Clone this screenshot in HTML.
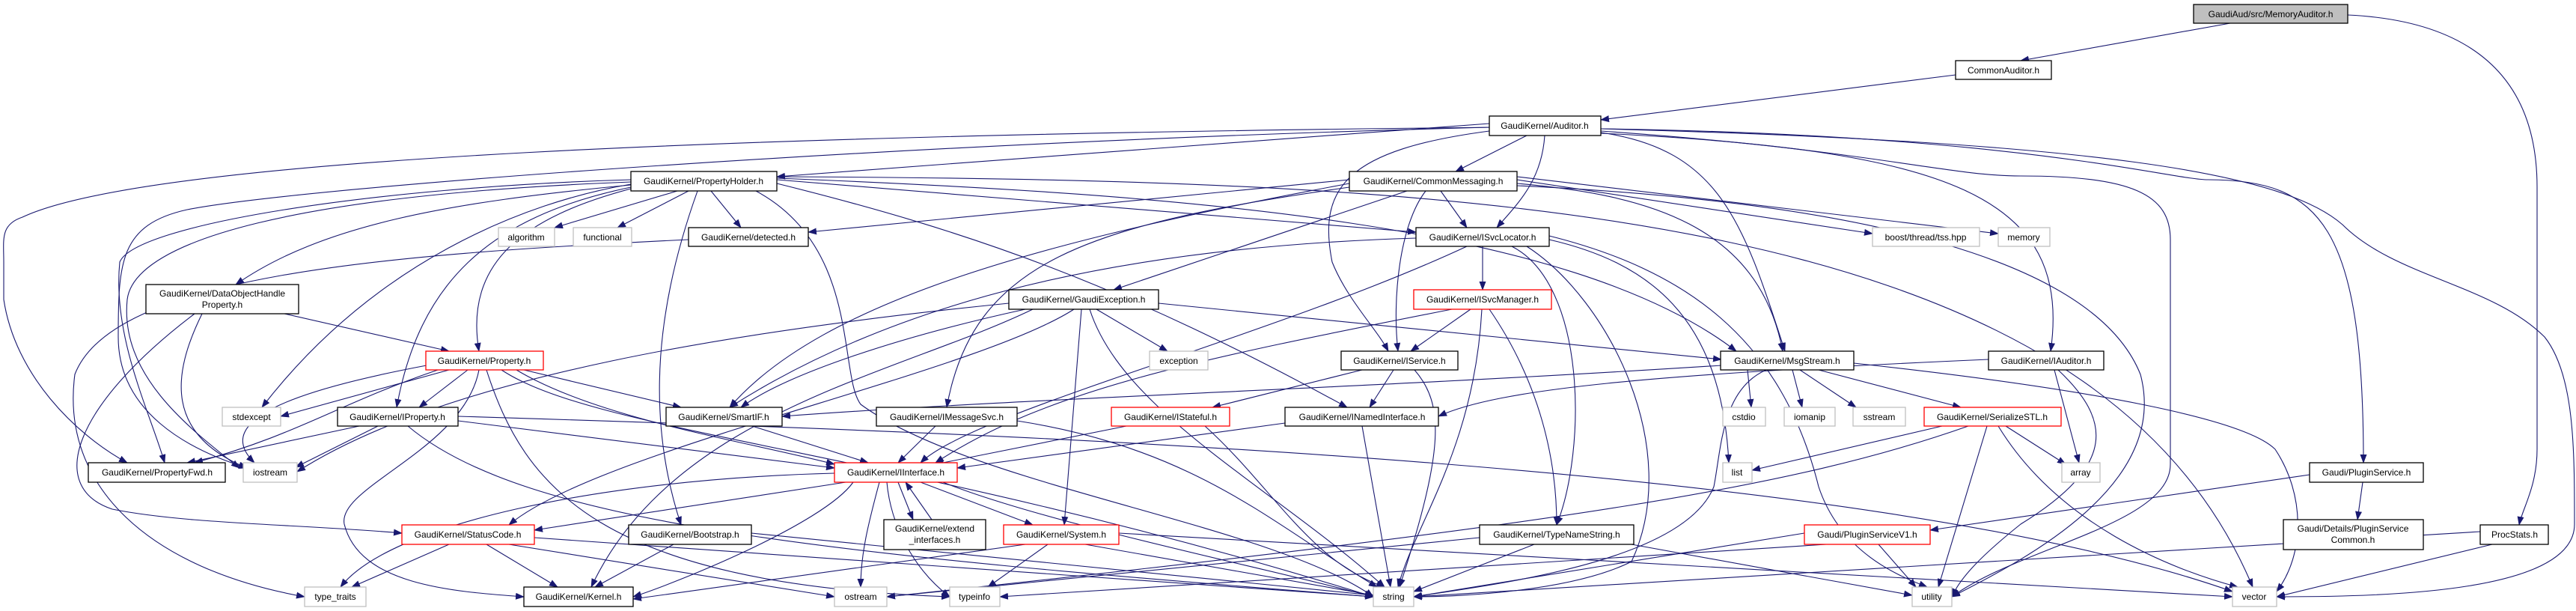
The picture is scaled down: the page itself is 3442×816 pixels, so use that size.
<!DOCTYPE html>
<html><head><meta charset="utf-8"><style>
html,body{margin:0;padding:0;background:#fff;}
svg{display:block;}
text{font-family:"Liberation Sans",Arial,sans-serif;font-size:12px;fill:#000;}
.e{fill:none;stroke:#191970;stroke-width:1.1;marker-end:url(#a);}
.b{fill:#fff;stroke:#000;stroke-width:1.3;}
.r{fill:#fff;stroke:#ff0000;stroke-width:1.3;}
.g{fill:#fff;stroke:#bfbfbf;stroke-width:1.3;}
</style></head><body>
<svg width="3442" height="816" viewBox="0 0 3442 816" xmlns="http://www.w3.org/2000/svg">
<defs><marker id="a" markerWidth="12" markerHeight="9" refX="11" refY="4.5" orient="auto" markerUnits="userSpaceOnUse"><path d="M0,0 L12,4.5 L0,9 z" fill="#191970"/></marker></defs>
<g>
<path class="e" d="M2980,31 L2700,81"/>
<path class="e" d="M3137,20 C3350,30 3390,150 3390,250 L3390,600 C3390,650 3370,680 3366,701"/>
<path class="e" d="M2613,100 L2139,160"/>
<path class="e" d="M1990,165 L1038,236"/>
<path class="e" d="M2040,181 L1945,229"/>
<path class="e" d="M2064,181 C2060,240 2030,270 2000,304"/>
<path class="e" d="M1990,175 C1800,200 1760,250 1780,350 C1800,400 1840,440 1855,469"/>
<path class="e" d="M2139,178 C2600,200 2770,260 2740,469"/>
<path class="e" d="M2139,172 C2700,180 2900,240 2950,240 C3100,240 3158,300 3158,618"/>
<path class="e" d="M2139,172 C2800,190 3050,230 3130,300 C3200,370 3330,380 3400,450 C3440,500 3440,600 3440,700 C3440,790 3200,797 3042,797"/>
<path class="e" d="M2000,170 C1000,180 200,210 30,290 C0,300 5,320 5,350 L5,400 C20,500 100,580 170,618"/>
<path class="e" d="M2139,177 C2300,200 2330,300 2385,469"/>
<path class="e" d="M2139,175 C2500,200 2600,235 2700,235 C2850,235 2900,260 2900,320 L2900,620 C2900,700 2700,730 2608,797"/>
<path class="e" d="M1990,170 C1200,190 400,250 250,280 C160,300 158,350 158,450 C158,550 250,600 330,625"/>
<path class="e" d="M905,255 L741,304"/>
<path class="e" d="M920,255 L825,304"/>
<path class="e" d="M950,255 L990,304"/>
<path class="e" d="M843,247 C600,270 430,300 315,380"/>
<path class="e" d="M843,252 C700,290 620,350 640,469"/>
<path class="e" d="M843,250 C650,290 560,380 530,544"/>
<path class="e" d="M843,246 C700,270 500,350 350,544"/>
<path class="e" d="M843,240 C500,250 180,300 160,350 C150,450 200,550 220,618"/>
<path class="e" d="M843,243 C400,260 180,320 170,400 C160,500 250,570 320,625"/>
<path class="e" d="M932,255 C880,400 860,550 910,701"/>
<path class="e" d="M1038,240 L1892,310"/>
<path class="e" d="M1038,238 C1600,260 2100,300 2320,469"/>
<path class="e" d="M1038,245 C1300,310 1500,380 1800,544"/>
<path class="e" d="M1010,255 C1150,330 1120,500 1150,540 C1300,650 1700,700 1835,797"/>
<path class="e" d="M1038,236 C2000,240 2800,280 3010,784"/>
<path class="e" d="M1925,255 L1960,304"/>
<path class="e" d="M1905,255 C1870,300 1860,400 1868,469"/>
<path class="e" d="M2027,245 C2200,260 2350,300 2382,469"/>
<path class="e" d="M1803,240 L1080,310"/>
<path class="e" d="M1880,255 L1488,387"/>
<path class="e" d="M1803,250 C1450,300 1300,350 1265,544"/>
<path class="e" d="M1803,245 C1400,320 1100,400 975,544"/>
<path class="e" d="M2027,240 L2502,312"/>
<path class="e" d="M2027,236 L2670,312"/>
<path class="e" d="M2027,248 C2500,270 2800,350 2860,500 C2900,650 2700,750 2608,797"/>
<path class="e" d="M920,320 C500,340 150,370 100,500 C80,650 200,760 407,797"/>
<path class="e" d="M1981,329 L1981,387"/>
<path class="e" d="M1892,318 C1500,330 1200,400 975,544"/>
<path class="e" d="M2020,329 C2120,380 2120,600 2080,701"/>
<path class="e" d="M2040,329 C2150,400 2250,600 2180,750 C2100,790 1950,797 1889,797"/>
<path class="e" d="M2070,320 C2200,350 2300,420 2310,618"/>
<path class="e" d="M2070,315 C2250,360 2380,450 2430,650 C2460,740 2540,770 2575,784"/>
<path class="e" d="M1960,329 C1700,450 1300,550 1230,618"/>
<path class="e" d="M380,419 L600,469"/>
<path class="e" d="M270,419 C230,500 220,580 330,625"/>
<path class="e" d="M260,419 C100,540 60,650 150,680 C250,700 400,700 537,712"/>
<path class="e" d="M1465,413 L1560,469"/>
<path class="e" d="M1548,405 L2300,480"/>
<path class="e" d="M1348,405 C1000,440 600,500 397,630"/>
<path class="e" d="M1435,413 C1300,500 800,600 680,701"/>
<path class="e" d="M1445,413 L1422,701"/>
<path class="e" d="M1456,413 C1500,550 1700,650 1850,784"/>
<path class="e" d="M1380,413 C1200,500 900,550 790,784"/>
<path class="e" d="M1370,413 C1200,450 1050,500 990,544"/>
<path class="e" d="M1965,413 L1885,469"/>
<path class="e" d="M1990,413 C2050,500 2080,600 2080,701"/>
<path class="e" d="M1980,413 C1970,600 1890,700 1868,784"/>
<path class="e" d="M1940,413 C1600,480 1400,520 1250,618"/>
<path class="e" d="M600,494 L375,556"/>
<path class="e" d="M625,494 L560,544"/>
<path class="e" d="M700,494 L910,544"/>
<path class="e" d="M585,494 C450,540 400,580 260,618"/>
<path class="e" d="M570,488 C400,520 280,560 340,618"/>
<path class="e" d="M640,494 C620,600 450,650 460,700 C480,780 600,790 700,797"/>
<path class="e" d="M650,494 C700,650 800,780 1269,797"/>
<path class="e" d="M670,494 C800,580 1200,600 1835,797"/>
<path class="e" d="M690,494 C800,560 1000,590 1115,620"/>
<path class="e" d="M1820,494 L1620,544"/>
<path class="e" d="M1862,494 L1830,544"/>
<path class="e" d="M1890,494 C1930,540 1930,600 1870,784"/>
<path class="e" d="M2335,494 L2340,544"/>
<path class="e" d="M2395,494 L2408,544"/>
<path class="e" d="M2405,494 L2480,544"/>
<path class="e" d="M2430,494 L2620,544"/>
<path class="e" d="M2360,494 C2300,520 2300,600 2290,650 C2250,750 2000,780 1889,797"/>
<path class="e" d="M2477,485 C2800,520 3000,560 3040,600 C3080,660 3080,740 3042,790"/>
<path class="e" d="M2300,488 C1800,520 1400,530 1045,556"/>
<path class="e" d="M2657,480 C2200,500 2000,520 1922,556"/>
<path class="e" d="M2745,494 L2778,618"/>
<path class="e" d="M2750,494 C2820,560 2830,620 2700,700 C2650,740 2620,770 2608,797"/>
<path class="e" d="M480,569 L250,618"/>
<path class="e" d="M505,569 L395,624"/>
<path class="e" d="M612,562 L1115,625"/>
<path class="e" d="M545,569 C700,700 1100,740 1835,797"/>
<path class="e" d="M612,556 C1400,580 2500,620 2983,790"/>
<path class="e" d="M1005,569 L1160,618"/>
<path class="e" d="M1250,569 L1200,618"/>
<path class="e" d="M1359,562 C1600,600 1700,700 1840,784"/>
<path class="e" d="M1505,569 L1250,620"/>
<path class="e" d="M1610,569 C1700,650 1750,750 1850,784"/>
<path class="e" d="M1717,565 L1279,625"/>
<path class="e" d="M1820,569 L1858,784"/>
<path class="e" d="M2595,569 L2341,628"/>
<path class="e" d="M2680,569 L2760,620"/>
<path class="e" d="M2670,569 C2750,700 2900,760 2990,784"/>
<path class="e" d="M2655,569 L2590,784"/>
<path class="e" d="M2630,569 C2400,650 2100,700 1185,797"/>
<path class="e" d="M1130,644 L714,708"/>
<path class="e" d="M1200,644 L1220,694"/>
<path class="e" d="M1245,694 L1210,644"/>
<path class="e" d="M1230,644 L1380,701"/>
<path class="e" d="M1140,644 C1100,700 900,780 846,797"/>
<path class="e" d="M1175,644 C1160,700 1150,740 1150,784"/>
<path class="e" d="M1185,644 C1190,700 1220,760 1269,797"/>
<path class="e" d="M1115,632 C800,640 520,700 455,784"/>
<path class="e" d="M1260,644 C1400,700 1700,760 1835,797"/>
<path class="e" d="M600,727 L470,784"/>
<path class="e" d="M650,727 L745,784"/>
<path class="e" d="M680,727 L1115,797"/>
<path class="e" d="M714,718 L1835,797"/>
<path class="e" d="M900,727 L795,784"/>
<path class="e" d="M1004,712 L1835,795"/>
<path class="e" d="M1370,727 L846,800"/>
<path class="e" d="M1400,727 L1320,784"/>
<path class="e" d="M1450,727 L1835,795"/>
<path class="e" d="M1495,712 L2983,797"/>
<path class="e" d="M2050,727 L1889,790"/>
<path class="e" d="M2180,727 L2555,795"/>
<path class="e" d="M1977,718 L1185,797"/>
<path class="e" d="M2510,727 L2560,784"/>
<path class="e" d="M2411,712 L1889,797"/>
<path class="e" d="M2440,727 L1336,797"/>
<path class="e" d="M3157,644 L3150,694"/>
<path class="e" d="M3086,634 L2579,708"/>
<path class="e" d="M3314,710 L1889,797"/>
<path class="e" d="M3330,727 L3042,797"/>
</g>
<g text-anchor="middle">
<rect x="2931" y="6" width="206" height="25" fill="#bfbfbf" stroke="#000" stroke-width="1.3"/><text x="3034" y="23">GaudiAud/src/MemoryAuditor.h</text>
<rect class="b" x="2613" y="81" width="128" height="25"/><text x="2677" y="98">CommonAuditor.h</text>
<rect class="b" x="1990" y="155" width="149" height="26"/><text x="2064" y="172">GaudiKernel/Auditor.h</text>
<rect class="b" x="843" y="229" width="195" height="26"/><text x="940" y="246">GaudiKernel/PropertyHolder.h</text>
<rect class="b" x="1803" y="229" width="224" height="26"/><text x="1915" y="246">GaudiKernel/CommonMessaging.h</text>
<rect class="g" x="666" y="304" width="75" height="25"/><text x="703" y="321">algorithm</text>
<rect class="g" x="766" y="304" width="78" height="25"/><text x="805" y="321">functional</text>
<rect class="b" x="920" y="304" width="160" height="25"/><text x="1000" y="321">GaudiKernel/detected.h</text>
<rect class="b" x="1892" y="304" width="178" height="25"/><text x="1981" y="321">GaudiKernel/ISvcLocator.h</text>
<rect class="g" x="2502" y="304" width="143" height="25"/><text x="2573" y="321">boost/thread/tss.hpp</text>
<rect class="g" x="2670" y="304" width="69" height="25"/><text x="2704" y="321">memory</text>
<rect class="b" x="195" y="380" width="204" height="39"/><text x="297" y="396">GaudiKernel/DataObjectHandle</text><text x="297" y="411">Property.h</text>
<rect class="b" x="1348" y="387" width="200" height="26"/><text x="1448" y="404">GaudiKernel/GaudiException.h</text>
<rect class="r" x="1889" y="387" width="184" height="26"/><text x="1981" y="404">GaudiKernel/ISvcManager.h</text>
<rect class="r" x="569" y="469" width="157" height="25"/><text x="647" y="486">GaudiKernel/Property.h</text>
<rect class="g" x="1536" y="469" width="78" height="25"/><text x="1575" y="486">exception</text>
<rect class="b" x="1792" y="469" width="156" height="25"/><text x="1870" y="486">GaudiKernel/IService.h</text>
<rect class="b" x="2299" y="469" width="178" height="25"/><text x="2388" y="486">GaudiKernel/MsgStream.h</text>
<rect class="b" x="2657" y="469" width="154" height="25"/><text x="2734" y="486">GaudiKernel/IAuditor.h</text>
<rect class="g" x="297" y="544" width="78" height="25"/><text x="336" y="561">stdexcept</text>
<rect class="b" x="451" y="544" width="161" height="25"/><text x="531" y="561">GaudiKernel/IProperty.h</text>
<rect class="b" x="890" y="544" width="155" height="25"/><text x="967" y="561">GaudiKernel/SmartIF.h</text>
<rect class="b" x="1171" y="544" width="188" height="25"/><text x="1265" y="561">GaudiKernel/IMessageSvc.h</text>
<rect class="r" x="1485" y="544" width="158" height="25"/><text x="1564" y="561">GaudiKernel/IStateful.h</text>
<rect class="b" x="1717" y="544" width="205" height="25"/><text x="1820" y="561">GaudiKernel/INamedInterface.h</text>
<rect class="g" x="2302" y="544" width="57" height="25"/><text x="2330" y="561">cstdio</text>
<rect class="g" x="2384" y="544" width="68" height="25"/><text x="2418" y="561">iomanip</text>
<rect class="g" x="2476" y="544" width="70" height="25"/><text x="2511" y="561">sstream</text>
<rect class="r" x="2571" y="544" width="183" height="25"/><text x="2662" y="561">GaudiKernel/SerializeSTL.h</text>
<rect class="b" x="118" y="618" width="183" height="26"/><text x="210" y="635">GaudiKernel/PropertyFwd.h</text>
<rect class="g" x="325" y="618" width="72" height="26"/><text x="361" y="635">iostream</text>
<rect class="r" x="1115" y="618" width="164" height="26"/><text x="1197" y="635">GaudiKernel/IInterface.h</text>
<rect class="g" x="2302" y="618" width="39" height="26"/><text x="2321" y="635">list</text>
<rect class="g" x="2755" y="618" width="51" height="26"/><text x="2780" y="635">array</text>
<rect class="b" x="3086" y="618" width="152" height="26"/><text x="3162" y="635">Gaudi/PluginService.h</text>
<rect class="b" x="1181" y="694" width="136" height="40"/><text x="1249" y="710">GaudiKernel/extend</text><text x="1249" y="725">_interfaces.h</text>
<rect class="r" x="537" y="701" width="177" height="26"/><text x="625" y="718">GaudiKernel/StatusCode.h</text>
<rect class="b" x="840" y="701" width="164" height="26"/><text x="922" y="718">GaudiKernel/Bootstrap.h</text>
<rect class="r" x="1341" y="701" width="154" height="26"/><text x="1418" y="718">GaudiKernel/System.h</text>
<rect class="b" x="1977" y="701" width="206" height="26"/><text x="2080" y="718">GaudiKernel/TypeNameString.h</text>
<rect class="r" x="2411" y="701" width="168" height="26"/><text x="2495" y="718">Gaudi/PluginServiceV1.h</text>
<rect class="b" x="3051" y="694" width="187" height="40"/><text x="3144" y="710">Gaudi/Details/PluginService</text><text x="3144" y="725">Common.h</text>
<rect class="b" x="3314" y="701" width="91" height="26"/><text x="3360" y="718">ProcStats.h</text>
<rect class="g" x="407" y="784" width="82" height="26"/><text x="448" y="801">type_traits</text>
<rect class="b" x="700" y="784" width="146" height="26"/><text x="773" y="801">GaudiKernel/Kernel.h</text>
<rect class="g" x="1115" y="784" width="70" height="26"/><text x="1150" y="801">ostream</text>
<rect class="g" x="1269" y="784" width="67" height="26"/><text x="1302" y="801">typeinfo</text>
<rect class="g" x="1835" y="784" width="54" height="26"/><text x="1862" y="801">string</text>
<rect class="g" x="2555" y="784" width="53" height="26"/><text x="2581" y="801">utility</text>
<rect class="g" x="2983" y="784" width="59" height="26"/><text x="3012" y="801">vector</text>
</g>
</svg>
</body></html>
